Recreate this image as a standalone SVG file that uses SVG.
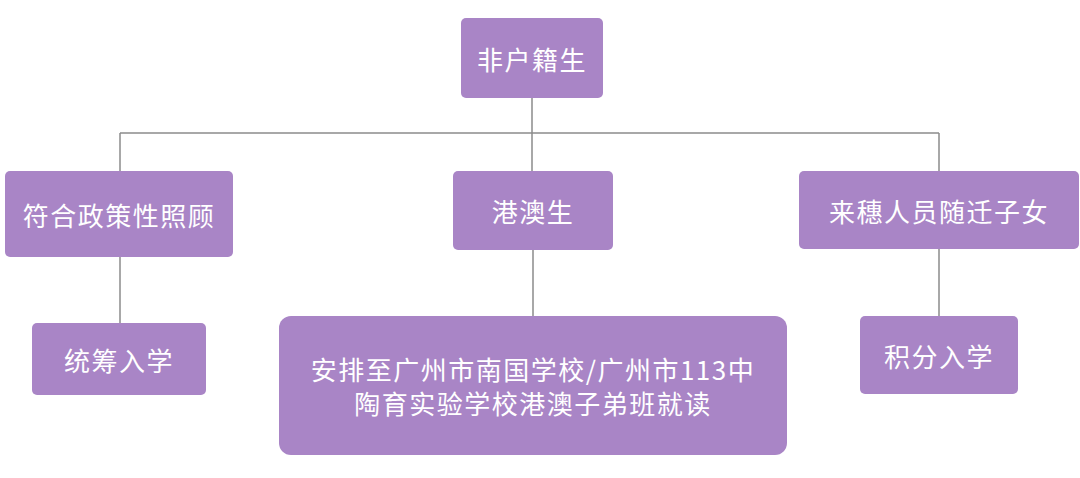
<svg xmlns="http://www.w3.org/2000/svg" width="1080" height="478" viewBox="0 0 1080 478">
<style>
.n{fill:#a985c6}
.t{fill:#fff;font-family:"Noto Sans CJK SC","Liberation Sans",sans-serif;font-size:26px;letter-spacing:1.5px;text-anchor:middle;dominant-baseline:central}
.c{stroke:#8c8c8c;stroke-width:1.5;fill:none}
</style>
<rect width="1080" height="478" fill="#fff"/>
<g id="connectors">
<path class="c" d="M532 98V133M120 133H939M120 133V171M532 133V171M939 133V171M120 257V323M533 250V316M939 249V316"/>
</g>
<g id="root"><rect class="n" x="461" y="18" width="142" height="80" rx="5"/><text class="t" x="532" y="58">非户籍生</text></g>
<g id="policy"><rect class="n" x="5" y="171" width="228" height="86" rx="5"/><text class="t" x="119" y="214">符合政策性照顾</text></g>
<g id="hkmo"><rect class="n" x="453" y="171" width="160" height="79" rx="5"/><text class="t" x="533" y="210">港澳生</text></g>
<g id="migrant"><rect class="n" x="799" y="171" width="280" height="78" rx="5"/><text class="t" x="939" y="210">来穗人员随迁子女</text></g>
<g id="overall"><rect class="n" x="32" y="323" width="174" height="72" rx="5"/><text class="t" x="119" y="359">统筹入学</text></g>
<g id="school"><rect class="n" x="279" y="316" width="508" height="139" rx="12"/><text class="t" x="533" y="368">安排至广州市南国学校/广州市113中</text><text class="t" x="533" y="402">陶育实验学校港澳子弟班就读</text></g>
<g id="points"><rect class="n" x="860" y="316" width="158" height="78" rx="5"/><text class="t" x="939" y="355">积分入学</text></g>
</svg>
